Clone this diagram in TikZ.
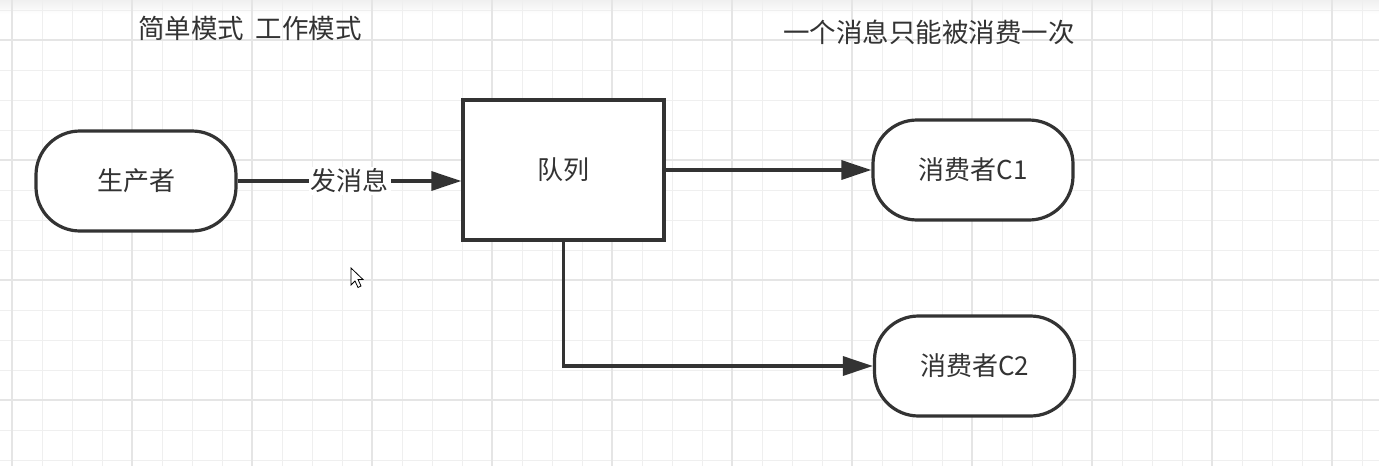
\documentclass[tikz,border=0pt]{standalone}
\usepackage{fontspec}
\setmainfont{Noto Sans CJK SC}
\usetikzlibrary{arrows.meta}
\definecolor{ink}{HTML}{333333}
\definecolor{gridminor}{HTML}{EFEFEF}
\definecolor{gridmajor}{HTML}{E5E5E5}
\tikzset{
  stadium/.style={draw=ink, line width=3.2pt, rounded corners=44pt, minimum width=200pt, minimum height=100pt, fill=white, inner sep=0pt, font=\fontsize{26pt}{30pt}\selectfont, text=ink},
  queuebox/.style={draw=ink, line width=3.2pt, minimum width=201pt, minimum height=140pt, fill=white, inner sep=0pt, font=\fontsize{26pt}{30pt}\selectfont, text=ink},
  conn/.style={draw=ink, line width=3.2pt, -{Triangle[length=30pt,width=19pt]}},
  toplabel/.style={font=\fontsize{26.5pt}{30pt}\selectfont, text=ink, inner sep=0pt},
  edgelabel/.style={fill=white, font=\fontsize{26pt}{30pt}\selectfont, text=ink, inner sep=2pt}
}
\begin{document}
\begin{tikzpicture}[x=1pt,y=-1pt]
\useasboundingbox (0,0) rectangle (1379,466);
\fill[white] (0,0) rectangle (1379,466);
\shade[top color=black!6, bottom color=white] (0,0) rectangle (1379,14);
% grid
\foreach \k in {0,...,45} {
  \draw[gridminor, line width=1pt] ({12+30*\k},0) -- ({12+30*\k},466);
}
\foreach \k in {0,...,15} {
  \draw[gridminor, line width=1pt] (0,{10+30*\k}) -- (1379,{10+30*\k});
}
\foreach \k in {0,...,11} {
  \draw[gridmajor, line width=1.2pt] ({12+120*\k},0) -- ({12+120*\k},466);
}
\foreach \k in {0,...,3} {
  \draw[gridmajor, line width=1.2pt] (0,{40+120*\k}) -- (1379,{40+120*\k});
}
% titles
\node[toplabel] (t1) at (250,28) {简单模式\ \ 工作模式};
\node[toplabel] (t2) at (929,32) {一个消息只能被消费一次};
% nodes
\node[stadium] (prod) at (136,181) {生产者};
\node[queuebox] (queue) at (563.5,170) {队列};
\node[stadium] (c1) at (973,170) {消费者C1};
\node[stadium] (c2) at (974.5,366) {消费者C2};
% connectors
\draw[conn] (prod.east) -- node[edgelabel] (lbl) {发消息} (queue.west |- prod.east);
\draw[conn] (queue.east) -- (c1.west);
\draw[conn] (queue.south) |- (c2.west);
% cursor
\draw[black, line width=0.8pt, fill=white, line join=miter]
  (351,268) -- (351,285) -- (355,281) -- (358,287.5) -- (361,286) -- (358,279.5) -- (363,279.5) -- cycle;
\end{tikzpicture}
\end{document}
